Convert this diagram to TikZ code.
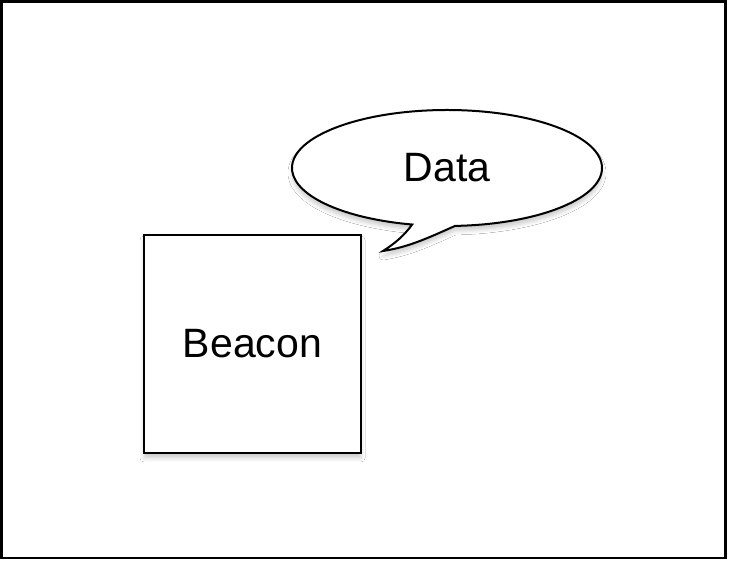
\documentclass[tikz,border=0pt]{standalone}
\usepackage{fontspec}
\setmainfont{Liberation Sans}
\usetikzlibrary{shadows.blur,calc}
\begin{document}
\begin{tikzpicture}[x=1pt,y=1pt,
  frameline/.style={draw=black,line width=2.2pt},
  boxshape/.style={draw=black,fill=white,line width=2pt,
    blur shadow={shadow xshift=0pt,shadow yshift=-5pt,shadow blur radius=4pt,shadow opacity=20}},
  bigtext/.style={font=\fontsize{41}{49}\selectfont,inner sep=0pt}]
\useasboundingbox (0,0) rectangle (729,562);
\fill[white] (0,0) rectangle (729,562);
\draw[frameline] (1.5,4) rectangle (725.5,560.5);
% beacon box
\node[boxshape,minimum width=217pt,minimum height=218pt,inner sep=0pt] (beacon) at (252.5,218) {};
\node[bigtext] (beacontext) at (beacon.center) {Beacon};
% speech bubble
\coordinate (bc) at (447,394);
\coordinate (tip) at (383,311);
\path[boxshape] ($(bc)+(-87:155 and 58)$) coordinate (rj)
  arc[start angle=-87,end angle=257,x radius=155,y radius=58] coordinate (lj)
  .. controls (404,326) and (394,318) .. (tip)
  .. controls (410,315) and (432,326) .. (rj) -- cycle;
\node[bigtext] (data) at (bc) {Data};
\end{tikzpicture}
\end{document}
